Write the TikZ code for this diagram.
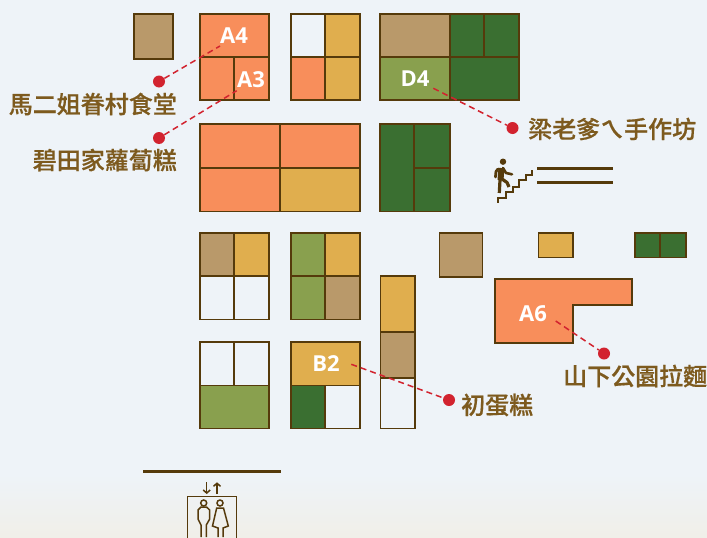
\documentclass[tikz,border=0pt]{standalone}
\usepackage{fontspec}
\usetikzlibrary{arrows.meta}
\setmainfont{Open Sans}
\newfontfamily\cjk[BoldFont={Noto Sans CJK TC Medium},BoldFeatures={FakeBold=0.6}]{Noto Sans CJK TC}
\definecolor{bgblue}{HTML}{EEF3F8}
\definecolor{bgcream}{HTML}{F0EFE8}
\definecolor{cOrange}{HTML}{F88E5B}
\definecolor{cYellow}{HTML}{E0AE4E}
\definecolor{cTan}{HTML}{B9996A}
\definecolor{cOlive}{HTML}{89A04E}
\definecolor{cGreen}{HTML}{3A6F31}
\definecolor{cLine}{HTML}{553A0B}
\definecolor{cRed}{HTML}{D2232F}
\definecolor{cText}{HTML}{7D5A1E}
\tikzset{
  cell/.style={draw=cLine,line width=1.6pt,line join=miter},
  divider/.style={draw=cLine,line width=1.6pt},
  stallid/.style={text=white,font=\fontsize{22}{22}\selectfont\bfseries,inner sep=0pt},
  shopname/.style={text=cText,font=\cjk\fontsize{24}{26}\selectfont\bfseries,inner sep=0pt},
  pin/.style={circle,fill=cRed,minimum size=12pt,inner sep=0pt},
  leader/.style={draw=cRed,line width=1.5pt,dash pattern=on 6pt off 4pt},
  icon/.style={draw=cLine,line width=1.5pt},
}
\newcommand{\stall}[5]{\path[cell,fill=#5] (#1,#2) rectangle (#3,#4);}
\begin{document}
\begin{tikzpicture}[x=1pt,y=-1pt]
\useasboundingbox (0,0) rectangle (707,538);
\fill[bgblue] (0,0) rectangle (707,538);
\fill[top color=bgblue,bottom color=bgcream] (0,475) rectangle (707,538);

\stall{134}{13.7}{173}{59}{cTan}
% A block
\stall{200}{13.7}{269}{100}{cOrange}
\draw[divider] (200,57)--(269,57) (234,57)--(234,100);
% block 2
\stall{291}{13.7}{325}{57}{bgblue}
\stall{325}{13.7}{360}{57}{cYellow}
\stall{291}{57}{325}{100}{cOrange}
\stall{325}{57}{360}{100}{cYellow}
% big
\stall{200}{124}{280}{168}{cOrange}
\stall{280}{124}{360}{168}{cOrange}
\stall{200}{168}{280}{211.5}{cOrange}
\stall{280}{168}{360}{211.5}{cYellow}
% D block
\stall{380}{13.7}{450}{57}{cTan}
\stall{450}{13.7}{484}{57}{cGreen}
\stall{484}{13.7}{519}{57}{cGreen}
\stall{380}{57}{450}{100}{cOlive}
\stall{450}{57}{519}{100}{cGreen}
% green
\stall{380}{124}{414}{211.5}{cGreen}
\stall{414}{124}{450}{168}{cGreen}
\stall{414}{168}{450}{211.5}{cGreen}
% row 3
\stall{200}{232.7}{234}{276}{cTan}
\stall{234}{232.7}{269}{276}{cYellow}
\stall{200}{276}{234}{319.3}{bgblue}
\stall{234}{276}{269}{319.3}{bgblue}
\stall{291}{232.7}{325}{276}{cOlive}
\stall{325}{232.7}{360}{276}{cYellow}
\stall{291}{276}{325}{319.3}{cOlive}
\stall{325}{276}{360}{319.3}{cTan}
% row 4
\stall{200}{342}{234}{385.3}{bgblue}
\stall{234}{342}{269}{385.3}{bgblue}
\stall{200}{385.3}{269}{428.3}{cOlive}
\stall{291}{342}{360}{385.3}{cYellow}
\stall{291}{385.3}{325}{428.3}{cGreen}
\stall{325}{385.3}{360}{428.3}{bgblue}
% column
\stall{380.3}{275.7}{415}{331.7}{cYellow}
\stall{380.3}{331.7}{415}{378}{cTan}
\stall{380.3}{378}{415}{428.3}{bgblue}
% right side
\stall{439.3}{232.7}{482.3}{277}{cTan}
\stall{538.3}{232.7}{573}{257.3}{cYellow}
\stall{635}{232.7}{660}{257.3}{cGreen}
\stall{660}{232.7}{686}{257.3}{cGreen}
\path[cell,fill=cOrange] (495,279)--(631.7,279)--(631.7,304.7)--(572.7,304.7)--(572.7,343)--(495,343)--cycle;

% stair icon
\fill[cLine] (503,161.7) circle (3.2pt);
\draw[cLine,line width=6pt,line join=round] (501.5,168)--(500.5,180);
\draw[cLine,line width=2.8pt,line cap=round,line join=round] (498,169)--(496,171.5)--(495.5,177);
\draw[cLine,line width=2.6pt,line cap=round,line join=round] (503,168)--(506,173)--(512,174.3);
\draw[cLine,line width=3.2pt,line join=round] (500,180)--(499.3,193);
\draw[cLine,line width=3.2pt,line join=round] (502,179)--(507,182.5)--(509,187);
\draw[icon,line width=2pt] (498,202.7)--(498,197.7)--(505.7,197.7)--(505.7,192.3)--(512.7,192.3)--(512.7,186.7)--(519.3,186.7)--(519.3,180)--(526,180)--(526,175)--(531.7,175)--(531.7,170);
\draw[cLine,line width=2.6pt] (537,168.7)--(613,168.7) (537,182.2)--(613,182.2);

% elevator icon
\draw[cLine,line width=2.8pt] (143,471.5)--(281,471.5);
\draw[icon] (187.7,538)--(187.7,496.3)--(236.3,496.3)--(236.3,538);
\draw[icon,-{Straight Barb[length=3pt,width=7pt]}] (206.7,482.3)--(206.7,494);
\draw[icon,-{Straight Barb[length=3pt,width=7pt]}] (217,494)--(217,482.3);
\draw[icon] (203.7,503) circle (3pt) (220,503) circle (3pt);
\draw[icon] (201,537)--(201,525)--(198,519)--(198,510)--(201,507)--(206.5,507)--(209.7,510)--(209.7,519)--(206.3,525)--(206.3,537);
\draw[icon] (218,537)--(218,528)--(212.5,526)--(216.7,508)--(223.5,508)--(228.3,526)--(223,528)--(223,537);

% pins and labels
\node[stallid] (A4) at (234,36) {A4};
\node[stallid] (A3) at (251,80) {A3};
\node[stallid] (D4) at (415,79) {D4};
\node[stallid] (B2) at (326,364) {B2};
\node[stallid] (A6) at (533,314) {A6};
\node[pin] (p1) at (159,81.5) {};
\node[pin] (p2) at (159,138) {};
\node[pin] (p3) at (512.5,128) {};
\node[pin] (p4) at (449,400) {};
\node[pin] (p5) at (604,353.5) {};
\coordinate (e1) at (220,46);
\coordinate (e2) at (236.7,90.7);
\coordinate (e3) at (433.3,88.3);
\coordinate (e4) at (351.3,364.3);
\coordinate (e5) at (555.7,321);
\draw[leader] (p1)--(e1);
\draw[leader] (p2)--(e2);
\draw[leader] (e3)--(p3);
\draw[leader] (e4)--(p4);
\draw[leader] (e5)--(p5);
\node[shopname,anchor=east] (n1) at (177,104) {馬二姐眷村食堂};
\node[shopname,anchor=east] (n2) at (177,160) {碧田家蘿蔔糕};
\node[shopname,anchor=west] (n3) at (528,129) {梁老爹ㄟ手作坊};
\node[shopname,anchor=west] (n4) at (461,405) {初蛋糕};
\node[shopname,anchor=west] (n5) at (563,376) {山下公園拉麵};
\end{tikzpicture}
\end{document}
